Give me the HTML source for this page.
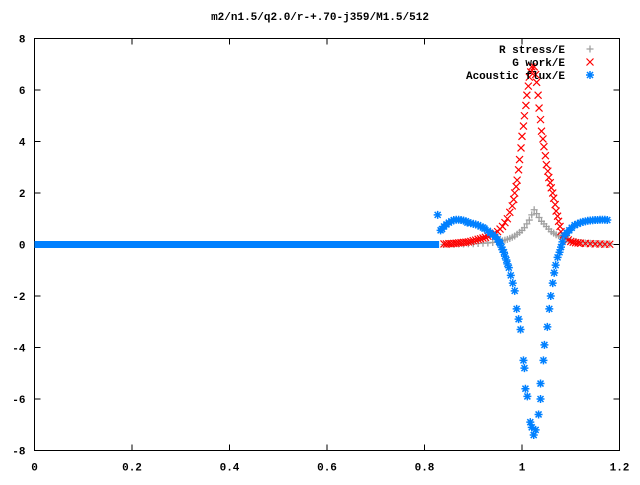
<!DOCTYPE html>
<html><head><meta charset="utf-8"><style>
body{margin:0;background:#fff}
svg text{font-family:"Liberation Mono",monospace;font-size:11px;font-weight:bold;fill:#000}
</style></head><body>
<svg id="chart" width="640" height="480" xmlns="http://www.w3.org/2000/svg">
<rect width="640" height="480" fill="#fff"/>
<text x="320" y="20" text-anchor="middle">m2/n1.5/q2.0/r-+.70-j359/M1.5/512</text>
<g id="axes"></g><g id="marks"></g><g id="legend"></g>
</svg>
<script>
const xTicks=[0,0.2,0.4,0.6,0.8,1,1.2];
const xTickLabels=["0","0.2","0.4","0.6","0.8","1","1.2"];
const yTicks=[-8,-6,-4,-2,0,2,4,6,8];
const flatX=[0,0.83];
const grayX=[0.84,0.85,0.86,0.87,0.88,0.89,0.9,0.91,0.92,0.93,0.94,0.95,0.955,0.96,0.965,0.97,0.975,0.98,0.985,0.99,0.995,1.0,1.005,1.01,1.015,1.02,1.025,1.03,1.035,1.04,1.045,1.05,1.055,1.06,1.065,1.07,1.075,1.08,1.085,1.09,1.095,1.1,1.11,1.12,1.13,1.14,1.15,1.16,1.17,1.18];
const grayY=[0.0,0.01,0.01,0.02,0.02,0.03,0.03,0.04,0.05,0.06,0.08,0.1,0.12,0.14,0.17,0.2,0.24,0.28,0.33,0.4,0.47,0.55,0.65,0.8,0.95,1.15,1.35,1.2,1.05,0.9,0.8,0.7,0.6,0.5,0.44,0.38,0.34,0.3,0.26,0.22,0.18,0.15,0.11,0.08,0.06,0.05,0.04,0.03,0.02,0.02];
const redX=[0.84,0.845,0.85,0.855,0.86,0.865,0.87,0.875,0.88,0.885,0.89,0.895,0.9,0.905,0.91,0.915,0.92,0.925,0.93,0.935,0.94,0.945,0.95,0.955,0.96,0.965,0.97,0.975,0.98,0.983,0.985,0.988,0.99,0.993,0.995,0.998,1.0,1.003,1.005,1.008,1.01,1.013,1.015,1.018,1.02,1.025,1.028,1.03,1.033,1.035,1.038,1.04,1.043,1.045,1.048,1.05,1.053,1.055,1.058,1.06,1.063,1.065,1.068,1.07,1.073,1.075,1.078,1.08,1.085,1.09,1.095,1.1,1.105,1.11,1.115,1.12,1.13,1.14,1.15,1.16,1.17,1.18];
const redY=[0.02,0.02,0.03,0.03,0.04,0.05,0.06,0.07,0.08,0.09,0.1,0.12,0.15,0.17,0.2,0.22,0.25,0.28,0.32,0.35,0.38,0.44,0.5,0.6,0.7,0.85,1.0,1.25,1.5,1.75,2.0,2.25,2.5,2.9,3.3,3.75,4.2,4.6,5.0,5.4,5.8,6.15,6.5,6.7,6.9,6.9,6.6,6.3,5.8,5.3,4.85,4.4,4.1,3.8,3.45,3.1,2.85,2.6,2.4,2.2,2.0,1.8,1.55,1.3,1.1,0.9,0.7,0.5,0.37,0.25,0.18,0.12,0.09,0.07,0.06,0.05,0.04,0.03,0.02,0.02,0.01,0.01];
const blueX=[0.827,0.833,0.836,0.84,0.845,0.85,0.855,0.86,0.865,0.87,0.875,0.88,0.885,0.888,0.895,0.9,0.905,0.91,0.915,0.92,0.923,0.93,0.935,0.94,0.945,0.95,0.953,0.955,0.958,0.96,0.963,0.965,0.968,0.97,0.973,0.977,0.981,0.985,0.989,0.993,0.997,1.003,1.005,1.007,1.011,1.017,1.02,1.024,1.028,1.034,1.038,1.038,1.044,1.046,1.052,1.056,1.059,1.063,1.066,1.069,1.073,1.077,1.08,1.083,1.087,1.092,1.097,1.102,1.108,1.114,1.12,1.125,1.13,1.135,1.14,1.145,1.15,1.155,1.16,1.165,1.17,1.175];
const blueY=[1.15,0.55,0.6,0.7,0.78,0.85,0.9,0.95,0.96,0.96,0.95,0.93,0.9,0.85,0.83,0.8,0.78,0.75,0.7,0.66,0.62,0.53,0.45,0.38,0.3,0.2,0.1,0.05,-0.1,-0.2,-0.3,-0.45,-0.6,-0.75,-0.9,-1.2,-1.5,-1.8,-2.5,-2.9,-3.3,-4.5,-4.8,-5.6,-5.9,-6.9,-7.1,-7.4,-7.2,-6.6,-5.4,-6.0,-4.5,-3.9,-3.2,-2.5,-2.0,-1.5,-1.1,-0.8,-0.5,-0.3,-0.1,0.1,0.35,0.45,0.55,0.65,0.75,0.8,0.85,0.88,0.9,0.92,0.93,0.94,0.95,0.95,0.96,0.96,0.96,0.95];
const L=34.5,R=619.5,T=38.5,B=450.5;
const xs=v=>L+(v-0)/1.2*(R-L);
const ys=v=>B-(v+8)/16*(B-T);
const NS="http://www.w3.org/2000/svg";
function mk(tag,attrs,parent){const e=document.createElementNS(NS,tag);for(const k in attrs)e.setAttribute(k,attrs[k]);parent.appendChild(e);return e;}
const axes=document.getElementById('axes');
const frame=mk('rect',{x:L,y:T,width:R-L,height:B-T,fill:'none',stroke:'#000','stroke-width':1},axes);


xTicks.forEach((t,i)=>{const x=xs(t);
 const tk=mk('path',{d:`M${x} ${B}v-6M${x} ${T}v6`,stroke:'#000'},axes);
 
 
 const lb=mk('text',{x:x,y:B+20,'text-anchor':'middle'},axes);lb.textContent=xTickLabels[i];
 
 });
yTicks.forEach(t=>{const y=ys(t);
 const tk=mk('path',{d:`M${L} ${y}h6M${R} ${y}h-6`,stroke:'#000'},axes);
 
 
 const lb=mk('text',{x:L-9,y:y+4,'text-anchor':'end'},axes);lb.textContent=String(t);
 
 });
const marks=document.getElementById('marks');
function plus(x,y,c,g){return mk('path',{d:`M${x-3.5} ${y}h7M${x} ${y-3.5}v7`,stroke:c,'stroke-width':1.3},g);}
function cross(x,y,c,g){return mk('path',{d:`M${x-3.5} ${y-3.5}l7 7M${x-3.5} ${y+3.5}l7 -7`,stroke:c,'stroke-width':1.2},g);}
function star(x,y,c,g){return mk('path',{d:`M${x-4} ${y}h8M${x} ${y-4}v8M${x-3} ${y-3}l6 6M${x-3} ${y+3}l6 -6`,stroke:c,'stroke-width':1.5},g);}
const gG=mk('g',{},marks);
const gR=mk('g',{},marks);
const gB=mk('g',{},marks);
const flat=mk('line',{x1:xs(flatX[0]),x2:xs(flatX[1]),y1:ys(0),y2:ys(0),stroke:'#0080ff','stroke-width':7},gB);


grayX.forEach((v,i)=>{const p=plus(xs(v),ys(grayY[i]),'#a0a0a0',gG);
 
 });
redX.forEach((v,i)=>{const p=cross(xs(v),ys(redY[i]),'#ff0000',gR);
 
 });
blueX.forEach((v,i)=>{const p=star(xs(v),ys(blueY[i]),'#0080ff',gB);
 
 });
const lg=document.getElementById('legend');


[["R stress/E",'#a0a0a0',plus],["G work/E",'#ff0000',cross],["Acoustic flux/E",'#0080ff',star]].forEach((e,i)=>{
 const y=49+i*13;
 const t=mk('text',{x:565,y:y+4,'text-anchor':'end'},lg);t.textContent=e[0];
 
 
 const m=e[2](590,y,e[1],lg);
 
 });
</script>
</body></html>
